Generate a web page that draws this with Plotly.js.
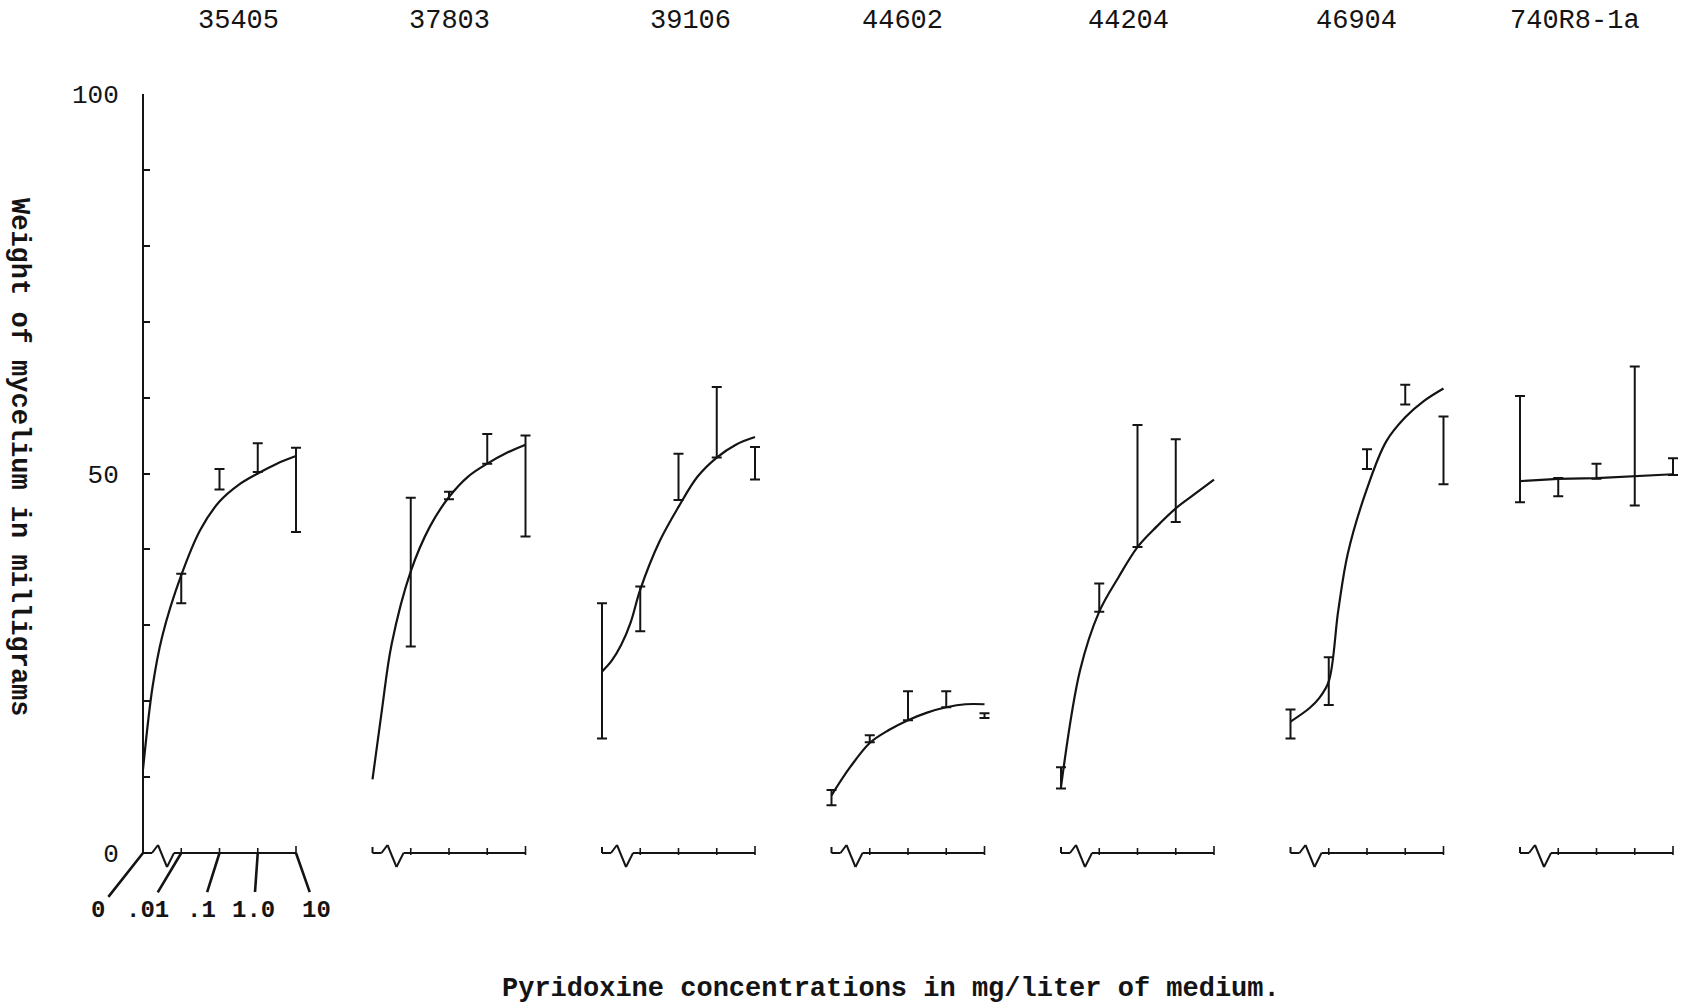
<!DOCTYPE html>
<html>
<head>
<meta charset="utf-8">
<script src="https://cdn.plot.ly/plotly-3.0.1.min.js"></script>
<style>
html, body { margin: 0; padding: 0; background: #ffffff; }
#chart { width: 1688px; height: 1007px; }
</style>
</head>
<body>
<div id="chart"></div>
<script>
// ---------------- DATA ----------------
const strains = ['35405', '37803', '39106', '44602', '44204', '46904', '740R8-1a'];
const concLabels = ['0', '.01', '.1', '1.0', '10'];   // pyridoxine, mg/liter
const concIndex = [0, 1, 2, 3, 4];

// error-bar ranges in mg (null = no bar drawn)
const barLow = [
  [null, 32.9, 47.9, 50.2, 42.3],
  [null, 27.2, 46.6, 51.3, 41.7],
  [15.1, 29.2, 46.5, 52.1, 49.2],
  [6.3, 14.6, 17.5, 19.2, 17.8],
  [8.5, 31.8, 40.3, 43.6, null],
  [15.1, 19.5, 50.6, 59.1, 48.6],
  [46.2, 47.0, 49.3, 45.8, 49.8]
];
const barHigh = [
  [null, 36.8, 50.6, 54.0, 53.4],
  [null, 46.8, 47.6, 55.2, 55.0],
  [32.9, 35.1, 52.6, 61.4, 53.5],
  [8.3, 15.5, 21.3, 21.3, 18.4],
  [11.3, 35.5, 56.4, 54.5, null],
  [18.9, 25.8, 53.2, 61.7, 57.5],
  [60.2, 49.4, 51.3, 64.1, 52.0]
];

// hand-drawn growth curves, read along the concentration scale
const curveX = [
  [0, 0.25, 0.5, 1, 1.5, 2, 2.5, 3, 3.5, 4],
  [0, 0.25, 0.5, 1, 1.5, 2, 2.5, 3, 3.5, 4],
  [0, 0.25, 0.5, 0.75, 1, 1.5, 2, 2.5, 3, 3.5, 4],
  [0, 0.5, 1, 1.5, 2, 2.5, 3, 3.5, 4],
  [0, 0.5, 1, 1.5, 2, 2.5, 3, 3.5, 4],
  [0, 0.5, 0.75, 1, 1.25, 1.5, 2, 2.5, 3, 3.5, 4],
  [0, 1, 2, 3, 4]
];
const curveY = [
  [11.0, 21.9, 28.5, 36.6, 42.6, 46.3, 48.5, 50.0, 51.3, 52.3],
  [9.7, 19.0, 27.5, 37.1, 43.0, 46.9, 49.6, 51.3, 52.7, 53.8],
  [23.9, 25.3, 27.4, 30.4, 34.7, 41.0, 45.6, 49.6, 52.1, 53.8, 54.8],
  [7.6, 11.4, 14.5, 16.2, 17.5, 18.5, 19.2, 19.6, 19.6],
  [8.7, 24.1, 31.8, 36.3, 40.3, 43.0, 45.4, 47.3, 49.2],
  [17.3, 19.1, 20.4, 22.6, 32.0, 39.5, 48.0, 54.2, 57.4, 59.6, 61.2],
  [49.0, 49.3, 49.4, 49.7, 49.9]
];
const curveShape = ['spline', 'spline', 'spline', 'spline', 'spline', 'spline', 'linear'];

const yTickVals = [0, 10, 20, 30, 40, 50, 60, 70, 80, 90, 100];
const yTickText = ['0', '', '', '', '', '50', '', '', '', '', '100'];

// ---------------- LAYOUT CONSTANTS (pixels) ----------------
const FIG_W = 1688, FIG_H = 1007;
const PANEL_LEFT = 143, PANEL_STEP = 229.5, PANEL_W = 153, PAD_PX = 10;
const PX_PER_STEP = PANEL_W / 4;
const PAD_UNITS = PAD_PX / PX_PER_STEP;
const Y0_PX = 853, Y100_PX = 94;
const Y_SPAN_PX = Y0_PX - Y100_PX;
const TITLE_X_PX = [238, 449, 690, 902, 1128, 1356, 1575];
const TITLE_Y_PX = 21;
const LEADER_DX = [-45, -34, -18, -4, 20];
const LEADER_DY = 57;
const INK = '#141414';
const MONO = '"Liberation Mono", "Courier New", monospace';

const yDomain = [1 - Y0_PX / FIG_H, 1 - Y100_PX / FIG_H];

const traces = [];
const shapes = [];
const annotations = [];
const layout = {
  width: FIG_W, height: FIG_H,
  margin: {l: 0, r: 0, t: 0, b: 0},
  paper_bgcolor: '#ffffff', plot_bgcolor: 'rgba(0,0,0,0)',
  showlegend: false,
  font: {family: MONO, color: INK},
  yaxis: {
    domain: yDomain, range: [0, 100], anchor: 'free', position: PANEL_LEFT / FIG_W,
    showline: true, linecolor: INK, linewidth: 2,
    ticks: 'inside', ticklen: 6, tickwidth: 2, tickcolor: INK,
    tickmode: 'array', tickvals: yTickVals, ticktext: yTickText,
    tickfont: {family: MONO, size: 26, color: INK},
    ticklabelstandoff: 18,
    showgrid: false, zeroline: false, fixedrange: true
  }
};

function axId(i) { return i === 0 ? 'x' : 'x' + (i + 1); }
// pixel offset from the panel's "0" position -> x-domain fraction
function xFrac(px) { return (px + PAD_PX) / (PANEL_W + 2 * PAD_PX); }

strains.forEach((s, i) => {
  const xa = axId(i);
  const left = PANEL_LEFT + i * PANEL_STEP;
  layout['xaxis' + (i === 0 ? '' : i + 1)] = {
    domain: [(left - PAD_PX) / FIG_W, (left + PANEL_W + PAD_PX) / FIG_W],
    range: [-PAD_UNITS, 4 + PAD_UNITS], anchor: 'y',
    showline: false, showticklabels: false, ticks: '',
    showgrid: false, zeroline: false, fixedrange: true
  };

  // curve
  traces.push({
    type: 'scatter', mode: 'lines', xaxis: xa, yaxis: 'y',
    x: curveX[i], y: curveY[i],
    line: {color: INK, width: 2.2, shape: curveShape[i], smoothing: 1},
    cliponaxis: false, hoverinfo: 'skip'
  });

  // error bars
  const bx = [], by = [], bp = [], bm = [];
  concIndex.forEach(k => {
    const lo = barLow[i][k], hi = barHigh[i][k];
    if (lo === null || hi === null) return;
    const c = (lo + hi) / 2;
    bx.push(k); by.push(c); bp.push(hi - c); bm.push(c - lo);
  });
  traces.push({
    type: 'scatter', mode: 'markers', xaxis: xa, yaxis: 'y',
    x: bx, y: by,
    marker: {size: 1, color: 'rgba(0,0,0,0)'},
    error_y: {type: 'data', symmetric: false, array: bp, arrayminus: bm,
              color: INK, thickness: 2, width: 5},
    cliponaxis: false, hoverinfo: 'skip'
  });

  // hand-drawn baseline with axis-break squiggle and ticks
  const xr = xa + ' domain';
  const seg = (x0, y0, x1, y1, w) => shapes.push({
    type: 'line', xref: xr, yref: 'y domain',
    x0: xFrac(x0), x1: xFrac(x1),
    y0: -y0 / Y_SPAN_PX, y1: -y1 / Y_SPAN_PX,
    line: {color: INK, width: w || 2}
  });
  if (i > 0) seg(0, -6, 0, 0);
  seg(0, 0, 9, 0);
  seg(9, 0, 15, -8);
  seg(15, -8, 24, 14);
  seg(24, 14, 31, 0);
  seg(31, 0, PANEL_W, 0);
  concIndex.slice(1).forEach(k => {
    const xp = k * PX_PER_STEP;
    seg(xp, k === 4 ? -7 : -5, xp, i === 0 ? 0 : 2, 1.6);
  });

  annotations.push({
    xref: 'paper', yref: 'paper',
    x: TITLE_X_PX[i] / FIG_W, y: 1 - TITLE_Y_PX / FIG_H,
    xanchor: 'center', yanchor: 'middle', showarrow: false,
    text: s, font: {family: MONO, size: 27, color: INK}
  });
});

// concentration labels with slanted leader lines (first panel only)
concIndex.forEach(k => {
  annotations.push({
    xref: 'x', yref: 'y', x: k, y: 0,
    text: concLabels[k], showarrow: true, arrowhead: 0,
    arrowwidth: 2.6, arrowcolor: INK,
    ax: LEADER_DX[k], ay: LEADER_DY, startstandoff: 3,
    font: {family: MONO, size: 24, color: INK, weight: 'bold'}
  });
});

// axis titles
annotations.push({
  xref: 'paper', yref: 'paper', x: 19 / FIG_W, y: 1 - 457 / FIG_H,
  xanchor: 'center', yanchor: 'middle', showarrow: false, textangle: 90,
  text: 'Weight of mycelium in milligrams',
  font: {family: MONO, size: 27, color: INK, weight: 'bold'}
});
annotations.push({
  xref: 'paper', yref: 'paper', x: 891 / FIG_W, y: 1 - 989 / FIG_H,
  xanchor: 'center', yanchor: 'middle', showarrow: false,
  text: 'Pyridoxine concentrations in mg/liter of medium.',
  font: {family: MONO, size: 27, color: INK, weight: 'bold'}
});

layout.shapes = shapes;
layout.annotations = annotations;

Plotly.newPlot('chart', traces, layout, {staticPlot: true, displayModeBar: false});
</script>
</body>
</html>
